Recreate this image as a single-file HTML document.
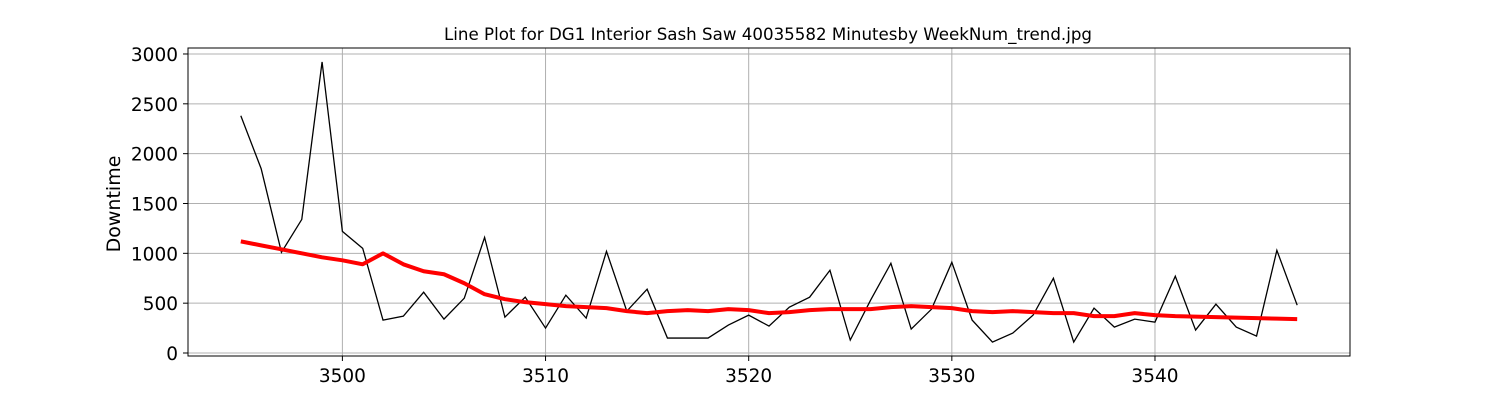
<!DOCTYPE html>
<html><head><meta charset="utf-8"><style>
html,body{margin:0;padding:0;background:#fff}
svg text{font-family:"DejaVu Sans","Liberation Sans",sans-serif}
</style></head><body>
<svg id="chart" width="1500" height="400" xmlns="http://www.w3.org/2000/svg">
<text x="768" y="40" font-size="16.5" text-anchor="middle" textLength="648" lengthAdjust="spacingAndGlyphs">Line Plot for DG1 Interior Sash Saw 40035582 Minutesby WeekNum_trend.jpg</text>
<text x="0" y="0" font-size="19" text-anchor="middle" transform="translate(120,204) rotate(-90)">Downtime</text>
<g id="grid"></g><g id="series"></g><g id="axes"></g>
</svg>
<script>
const weeks=[];for(let w=3495;w<=3547;w++)weeks.push(w);
const downtime=[2380,1850,1010,1340,2920,1220,1050,330,370,610,340,550,1160,360,560,250,580,350,1020,420,640,150,150,150,280,380,270,460,560,830,130,530,900,240,440,910,330,110,200,380,750,110,450,260,340,310,770,230,490,260,170,1030,480];
const trend=[1120,1080,1040,1000,960,930,890,1000,890,820,790,700,590,540,510,490,470,460,450,420,400,420,430,420,440,430,400,410,430,440,440,440,460,470,460,450,420,410,420,410,400,400,370,370,400,380,370,365,360,355,350,345,340];
const xTicks=[3500,3510,3520,3530,3540];
const yTicks=[0,500,1000,1500,2000,2500,3000];
const L=188,R=1350,T=48,B=356;
const x0=3492.4,x1=3549.6,y0=-30,y1=3060;
const sx=v=>L+(v-x0)/(x1-x0)*(R-L);
const sy=v=>B-(v-y0)/(y1-y0)*(B-T);
const NS="http://www.w3.org/2000/svg";
function mk(tag,attrs,parent){const e=document.createElementNS(NS,tag);for(const k in attrs)e.setAttribute(k,attrs[k]);parent.appendChild(e);return e;}
const grid=document.getElementById('grid'),ser=document.getElementById('series'),ax=document.getElementById('axes');
xTicks.forEach(t=>{
  const g=mk('line',{x1:sx(t),x2:sx(t),y1:T,y2:B,stroke:'#b0b0b0','stroke-width':1},grid);
  
  
  const tk=mk('line',{x1:sx(t),x2:sx(t),y1:B,y2:B+5,stroke:'#000'},ax);
  
  
  const tx=mk('text',{x:sx(t),y:B+26,'font-size':18.5,'text-anchor':'middle'},ax);tx.textContent=t;
  
  
});
yTicks.forEach(t=>{
  const g=mk('line',{x1:L,x2:R,y1:sy(t),y2:sy(t),stroke:'#b0b0b0','stroke-width':1},grid);
  
  
  const tk=mk('line',{x1:L-5,x2:L,y1:sy(t),y2:sy(t),stroke:'#000'},ax);
  
  
  const tx=mk('text',{x:L-10,y:sy(t)+7,'font-size':18.5,'text-anchor':'end'},ax);tx.textContent=t;
  
  
});
const p1=mk('polyline',{points:weeks.map((w,i)=>sx(w)+','+sy(downtime[i])).join(' '),fill:'none',stroke:'#000','stroke-width':1.3},ser);


const p2=mk('polyline',{points:weeks.map((w,i)=>sx(w)+','+sy(trend[i])).join(' '),fill:'none',stroke:'#ff0000','stroke-width':4,'stroke-linejoin':'round'},ser);


const fr=mk('rect',{x:L,y:T,width:R-L,height:B-T,fill:'none',stroke:'#000','stroke-width':1},ax);


</script>
</body></html>
